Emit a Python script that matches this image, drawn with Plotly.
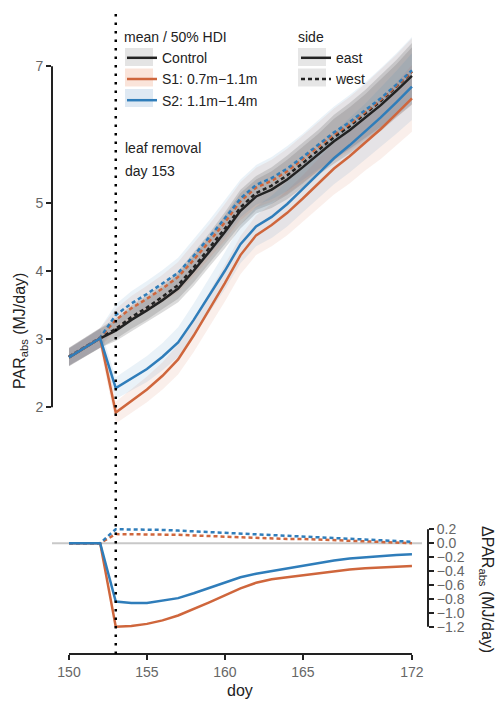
import plotly.graph_objects as go

# days of year
doy = list(range(150, 173))
leaf_removal_day = 153

# PAR_abs mean (MJ/day), control plants
ctrl_east = [2.73, 2.87, 3.01, 3.12, 3.28, 3.42, 3.57, 3.74, 4.00, 4.28, 4.57, 4.88,
             5.09, 5.19, 5.34, 5.52, 5.71, 5.90, 6.06, 6.24, 6.43, 6.64, 6.86]
ctrl_west = [2.74, 2.88, 3.02, 3.15, 3.32, 3.46, 3.62, 3.79, 4.05, 4.33, 4.62, 4.93,
             5.14, 5.25, 5.40, 5.58, 5.77, 5.96, 6.12, 6.30, 6.49, 6.70, 6.92]

# difference to control (MJ/day)
d_s1_east = [0, 0, 0, -1.20, -1.19, -1.16, -1.11, -1.04, -0.95, -0.85, -0.75, -0.65,
             -0.57, -0.52, -0.49, -0.46, -0.43, -0.40, -0.38, -0.36, -0.35, -0.34, -0.33]
d_s2_east = [0, 0, 0, -0.84, -0.86, -0.86, -0.83, -0.79, -0.72, -0.64, -0.57, -0.49,
             -0.44, -0.40, -0.36, -0.32, -0.28, -0.25, -0.22, -0.20, -0.18, -0.17, -0.16]
d_s1_west = [0, 0, 0, 0.13, 0.13, 0.13, 0.12, 0.12, 0.11, 0.10, 0.09, 0.09,
             0.08, 0.07, 0.06, 0.06, 0.05, 0.04, 0.03, 0.03, 0.02, 0.01, 0.00]
d_s2_west = [0, 0, 0, 0.20, 0.20, 0.20, 0.19, 0.18, 0.17, 0.16, 0.15, 0.13,
             0.12, 0.11, 0.10, 0.09, 0.08, 0.07, 0.06, 0.05, 0.04, 0.03, 0.02]

# half width of the 50% HDI
hw_ctrl = [0.13, 0.14, 0.14, 0.15, 0.17, 0.18, 0.18, 0.20, 0.22, 0.22, 0.24, 0.26,
           0.25, 0.27, 0.29, 0.30, 0.30, 0.33, 0.34, 0.35, 0.38, 0.39, 0.42]
hw_trt = [0.13, 0.14, 0.14, 0.16, 0.18, 0.19, 0.20, 0.22, 0.24, 0.25, 0.27, 0.28,
          0.29, 0.31, 0.33, 0.34, 0.36, 0.38, 0.40, 0.41, 0.44, 0.46, 0.49]

y_ticks = [2, 3, 4, 5, 7]
d_ticks = [0.2, 0.0, -0.2, -0.4, -0.6, -0.8, -1.0, -1.2]
x_ticks = [150, 155, 160, 165, 172]

s1_east = [c + d for c, d in zip(ctrl_east, d_s1_east)]
s2_east = [c + d for c, d in zip(ctrl_east, d_s2_east)]
s1_west = [c + d for c, d in zip(ctrl_west, d_s1_west)]
s2_west = [c + d for c, d in zip(ctrl_west, d_s2_west)]

BLACK = "#222222"
ORANGE = "#cf663c"
BLUE = "#2f7dba"
FONT = "Liberation Sans"
DASH = "4px,3px"

series = [
    ("Control", ctrl_east, ctrl_west, hw_ctrl, BLACK, "rgba(110,110,110,0.25)", "#e4e4e4"),
    ("S1: 0.7m\u22121.1m", s1_east, s1_west, hw_trt, ORANGE, "rgba(207,102,60,0.10)", "#fae4da"),
    ("S2: 1.1m\u22121.4m", s2_east, s2_west, hw_trt, BLUE, "rgba(47,125,186,0.10)", "#dfe9f3"),
]

fig = go.Figure()

# bands first
for name, east, west, hw, col, fcol, pcol in series:
    for vals in (east, west):
        fig.add_trace(go.Scatter(x=doy, y=[v + h for v, h in zip(vals, hw)], mode="lines",
                                 line=dict(width=0), showlegend=False, hoverinfo="skip",
                                 xaxis="x", yaxis="y"))
        fig.add_trace(go.Scatter(x=doy, y=[v - h for v, h in zip(vals, hw)], mode="lines",
                                 line=dict(width=0), fill="tonexty", fillcolor=fcol,
                                 showlegend=False, hoverinfo="skip", xaxis="x", yaxis="y"))

# mean lines
for name, east, west, hw, col, fcol, pcol in series:
    fig.add_trace(go.Scatter(x=doy, y=west, mode="lines", name=name,
                             line=dict(color=col, width=2.5, dash=DASH),
                             showlegend=False, xaxis="x", yaxis="y"))
for name, east, west, hw, col, fcol, pcol in series:
    fig.add_trace(go.Scatter(x=doy, y=east, mode="lines", name=name,
                             line=dict(color=col, width=2.5), legend="legend",
                             xaxis="x", yaxis="y"))

# differences
for d, col, dash in [(d_s1_west, ORANGE, DASH), (d_s2_west, BLUE, DASH),
                     (d_s1_east, ORANGE, "solid"), (d_s2_east, BLUE, "solid")]:
    fig.add_trace(go.Scatter(x=doy, y=d, mode="lines", line=dict(color=col, width=2.5, dash=dash),
                             showlegend=False, xaxis="x", yaxis="y2"))

# side legend
for name, dash in [("east", "solid"), ("west", DASH)]:
    fig.add_trace(go.Scatter(x=[None], y=[None], mode="lines", name=name,
                             line=dict(color=BLACK, width=2.5, dash=dash), legend="legend2",
                             xaxis="x", yaxis="y"))

tick_style = dict(showgrid=False, zeroline=False, showline=False, ticks="outside", ticklen=5,
                  tickwidth=1.5, tickcolor=BLACK, tickfont=dict(size=14, color="#666666"))

# margins of the plot area, used to place legend patches in pixels
L, R, T, B, W, H = 52, 72, 13, 54, 500, 708


def px_x(px):
    return (px - L) / (W - L - R)


def px_y(py):
    return 1 - (py - T) / (H - T - B)


shapes = [
    dict(type="line", xref="paper", x0=0, x1=0, yref="y", y0=min(y_ticks), y1=max(y_ticks),
         line=dict(color=BLACK, width=2)),
    dict(type="line", xref="paper", x0=1, x1=1, yref="y2", y0=min(d_ticks), y1=max(d_ticks),
         line=dict(color=BLACK, width=2)),
    dict(type="line", xref="x", x0=min(x_ticks), x1=max(x_ticks), yref="paper", y0=0, y1=0,
         line=dict(color=BLACK, width=2)),
    dict(type="line", xref="paper", x0=0, x1=0.984, yref="y2", y0=0, y1=0, layer="below",
         line=dict(color="#c8c8c8", width=2)),
    dict(type="line", xref="x", x0=leaf_removal_day, x1=leaf_removal_day, yref="paper", y0=0, y1=1,
         line=dict(color="black", width=2.5, dash="2.5px,6px")),
]

# light patches behind the legend keys
for i, s in enumerate(series):
    top = 48 + i * 20.5
    shapes.append(dict(type="rect", xref="paper", yref="paper", x0=px_x(125), x1=px_x(153),
                       y0=px_y(top), y1=px_y(top + 18), line=dict(width=0), fillcolor=s[6],
                       layer="above"))
for i in range(2):
    top = 48 + i * 20.5
    shapes.append(dict(type="rect", xref="paper", yref="paper", x0=px_x(298), x1=px_x(326),
                       y0=px_y(top), y1=px_y(top + 18), line=dict(width=0), fillcolor="#e6e6e6",
                       layer="above"))

ann_font = dict(family=FONT, size=14, color=BLACK)
annotations = [
    dict(text="leaf removal", xref="x", x=leaf_removal_day, xshift=7, yref="paper", y=px_y(148),
         xanchor="left", yanchor="middle", showarrow=False, font=ann_font),
    dict(text="day %d" % leaf_removal_day, xref="x", x=leaf_removal_day, xshift=7, yref="paper",
         y=px_y(171), xanchor="left", yanchor="middle", showarrow=False, font=ann_font),
    dict(text="PAR<sub>abs</sub> (MJ/day)", xref="paper", x=px_x(20), yref="paper", y=px_y(331),
         xanchor="center", yanchor="middle", textangle=-90, showarrow=False,
         font=dict(family=FONT, size=16, color=BLACK)),
    dict(text="\u0394PAR<sub>abs</sub> (MJ/day)", xref="paper", x=px_x(487), yref="paper",
         y=px_y(589), xanchor="center", yanchor="middle", textangle=90, showarrow=False,
         font=dict(family=FONT, size=16, color=BLACK)),
    dict(text="doy", xref="paper", x=0.5, yref="paper", y=px_y(690), xanchor="center",
         yanchor="middle", showarrow=False, font=dict(family=FONT, size=16, color=BLACK)),
]

legend_style = dict(xanchor="left", yanchor="top", bgcolor="rgba(0,0,0,0)", font=dict(size=14),
                    tracegroupgap=0, traceorder="normal")

fig.update_layout(
    width=W, height=H,
    margin=dict(l=L, r=R, t=T, b=B),
    paper_bgcolor="white", plot_bgcolor="white",
    font=dict(family=FONT, size=14, color=BLACK),
    xaxis=dict(range=[148.91, 173.03], tickvals=x_ticks, anchor="y2", **tick_style),
    yaxis=dict(domain=[0.256, 1], range=[0.786, 7.781], tickvals=y_ticks, anchor="x", **tick_style),
    yaxis2=dict(domain=[0, 0.256], range=[-1.593, 0.765], tickvals=d_ticks, tickformat=".1f",
                side="right", anchor="x", **tick_style),
    legend=dict(title=dict(text="mean / 50% HDI", font=dict(size=14)), x=px_x(122), y=px_y(24),
                **legend_style),
    legend2=dict(title=dict(text="side", font=dict(size=14)), x=px_x(296), y=px_y(24),
                 **legend_style),
    shapes=shapes,
    annotations=annotations,
    showlegend=True,
)

fig.write_html("out.html", config={"displayModeBar": False},
               post_script="document.body.style.margin='0px';")
